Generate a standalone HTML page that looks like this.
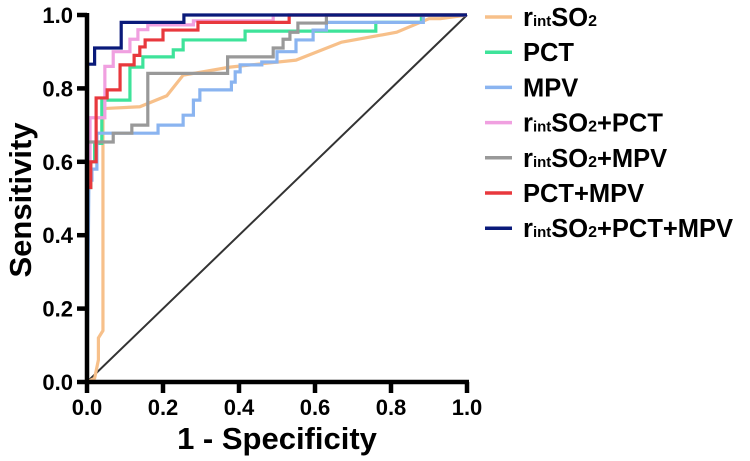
<!DOCTYPE html>
<html><head><meta charset="utf-8"><style>
body{margin:0;background:#fff;width:750px;height:461px;overflow:hidden}
svg{display:block;font-family:"Liberation Sans",sans-serif;font-weight:bold}
</style></head><body>
<svg id="c" width="750" height="461"></svg>
<script>
const xTicks=[0,0.2,0.4,0.6,0.8,1.0];
const yTicks=[0,0.2,0.4,0.6,0.8,1.0];
const tickLabels=["0.0","0.2","0.4","0.6","0.8","1.0"];
const seriesNames=["rintSO2","PCT","MPV","rintSO2+PCT","rintSO2+MPV","PCT+MPV","rintSO2+PCT+MPV"];
const seriesColors=["#f7c08a","#3ee39a","#8ab4f0","#f0a0e0","#999999","#e8383d","#0a1a7a"];
const sOrange=[[0,0],[0.02,0.01],[0.03,0.06],[0.03,0.12],[0.042,0.14],[0.042,0.745],[0.139,0.75],[0.21,0.78],[0.253,0.836],[0.376,0.858],[0.55,0.877],[0.67,0.926],[0.815,0.953],[0.9,0.99],[0.93,0.99],[1,1]];
const sGreen=[[0,0],[0,0.53],[0.01,0.53],[0.01,0.6],[0.02,0.6],[0.02,0.65],[0.039,0.65],[0.039,0.768],[0.113,0.768],[0.113,0.858],[0.147,0.858],[0.147,0.886],[0.227,0.886],[0.227,0.905],[0.253,0.905],[0.253,0.932],[0.416,0.932],[0.416,0.956],[0.76,0.956],[0.76,0.98],[0.88,0.98],[0.88,1],[1,1]];
const sBlue=[[0,0],[0.005,0.55],[0.013,0.55],[0.013,0.58],[0.026,0.58],[0.026,0.678],[0.187,0.678],[0.187,0.7],[0.253,0.7],[0.253,0.727],[0.28,0.727],[0.28,0.768],[0.297,0.768],[0.297,0.796],[0.38,0.796],[0.38,0.817],[0.39,0.817],[0.39,0.845],[0.403,0.845],[0.403,0.864],[0.46,0.864],[0.46,0.872],[0.5,0.872],[0.5,0.9],[0.55,0.9],[0.55,0.932],[0.595,0.932],[0.595,0.959],[0.63,0.959],[0.63,0.98],[0.885,0.98],[0.885,1],[1,1]];
const sPink=[[0,0],[0,0.6],[0.008,0.6],[0.008,0.72],[0.047,0.72],[0.047,0.86],[0.069,0.86],[0.069,0.9],[0.113,0.9],[0.113,0.934],[0.134,0.934],[0.134,0.96],[0.16,0.96],[0.16,0.973],[0.28,0.973],[0.28,0.984],[0.49,0.984],[0.49,1],[1,1]];
const sGrey=[[0,0],[0,0.654],[0.069,0.654],[0.069,0.678],[0.118,0.678],[0.118,0.7],[0.16,0.7],[0.16,0.841],[0.37,0.841],[0.37,0.886],[0.49,0.886],[0.49,0.91],[0.516,0.91],[0.516,0.934],[0.534,0.934],[0.534,0.953],[0.555,0.953],[0.555,0.978],[0.63,0.978],[0.63,1],[1,1]];
const sRed=[[0,0],[0,0.53],[0.01,0.53],[0.01,0.6],[0.024,0.6],[0.024,0.774],[0.053,0.774],[0.053,0.796],[0.087,0.796],[0.087,0.864],[0.124,0.864],[0.124,0.89],[0.139,0.89],[0.139,0.913],[0.153,0.913],[0.153,0.932],[0.2,0.932],[0.2,0.959],[0.292,0.959],[0.292,0.98],[0.532,0.98],[0.532,1],[1,1]];
const sNavy=[[0,0],[0,0.866],[0.02,0.866],[0.02,0.91],[0.09,0.91],[0.09,0.98],[0.255,0.98],[0.255,1],[1,1]];
const allSeries=[sOrange,sGreen,sBlue,sPink,sGrey,sRed,sNavy];
const X0=87,X1=467,Y0=382,Y1=15;
const sx=v=>X0+v*(X1-X0), sy=v=>Y0-v*(Y0-Y1);
const svg=document.getElementById('c'),NS='http://www.w3.org/2000/svg';
function mk(t,a,p){const e=document.createElementNS(NS,t);for(const k in a)e.setAttribute(k,a[k]);(p||svg).appendChild(e);return e;}
const diag=mk('line',{x1:sx(0),y1:sy(0),x2:sx(1),y2:sy(1),stroke:'#333','stroke-width':2});


allSeries.forEach((s,i)=>{
  const p=mk('polyline',{points:s.map(d=>sx(d[0])+','+sy(d[1])).join(' '),fill:'none',stroke:seriesColors[i],'stroke-width':3.2,'stroke-linejoin':'miter'});
  
  
});
const ya=mk('line',{x1:X0,y1:Y0+2,x2:X0,y2:Y1-2,stroke:'#000','stroke-width':4.5});


const xa=mk('line',{x1:X0-2,y1:Y0,x2:X1+2,y2:Y0,stroke:'#000','stroke-width':4.5});


yTicks.forEach((v,i)=>{
  mk('line',{x1:X0-10,y1:sy(v),x2:X0,y2:sy(v),stroke:'#000','stroke-width':4.5});
  const t=mk('text',{x:X0-14,y:sy(v)+8,'text-anchor':'end','font-size':22});
  t.textContent=tickLabels[i];
  
  
});
xTicks.forEach((v,i)=>{
  mk('line',{x1:sx(v),y1:Y0,x2:sx(v),y2:Y0+11,stroke:'#000','stroke-width':4.5});
  const t=mk('text',{x:sx(v),y:415,'text-anchor':'middle','font-size':22});
  t.textContent=tickLabels[i];
  
  
});
const xt=mk('text',{x:277,y:449,'text-anchor':'middle','font-size':31});
xt.textContent='1 - Specificity';


const yt=mk('text',{x:0,y:0,'text-anchor':'middle','font-size':31,transform:'translate(31,200) rotate(-90)'});
yt.textContent='Sensitivity';


seriesNames.forEach((n,i)=>{
  const y=17+i*35.2;
  const g=mk('g',{});
  
  
  mk('line',{x1:485,y1:y,x2:512,y2:y,stroke:seriesColors[i],'stroke-width':3.5},g);
  const t=mk('text',{x:523,y:y+9,'font-size':25.5},g);
  const parts=n.split('SO2');
  if(n.startsWith('rint')){
    t.innerHTML='r<tspan font-size="15">int</tspan>SO<tspan font-size="16">2</tspan>'+parts[1];
  } else t.textContent=n;
});
</script>
</body></html>
